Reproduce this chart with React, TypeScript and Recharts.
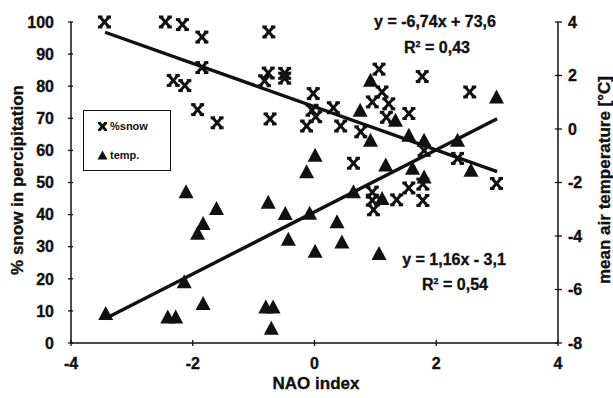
import { ScatterChart, Scatter, XAxis, YAxis, Label } from "recharts";

// % snow in precipitation (x markers)
const snowNao = [
  -3.45, -2.45, -2.17, -1.85, -1.85, -2.32, -2.13, -1.92, -1.6, -0.75, -0.76, -0.82,
  -0.49, -0.49, -0.73, -0.02, -0.04, 0.02, -0.13, 0.31, 0.43, 0.76, 0.64, 1.06, 1.11,
  0.95, 1.22, 1.18, 1.55, 1.77, 1.8, 2.55, 2.35, 2.99, 1.55, 1.35, 0.95, 0.95, 0.97,
  1.78, 1.78,
];
const snowPct = [
  100, 100, 99.2, 95.3, 85.8, 81.8, 80.2, 72.7, 68.6, 96.9, 84.1, 81.7,
  84, 82.5, 69.8, 77.7, 72.5, 70.5, 67.6, 73.3, 67.6, 65.8, 56, 85.3, 78.2,
  75.1, 74.5, 70.3, 71.5, 83, 60, 78.2, 57.5, 49.7, 48.3, 44.6, 47, 44.5, 41.5,
  49.5, 44.4,
];

// mean air temperature (triangles)
const tempNao = [
  -3.43, -2.11, -1.61, -1.83, -1.92, -2.14, -1.83, -2.41, -2.28, -0.76, -0.48, -0.43,
  -0.8, -0.68, -0.71, 0.01, 0.37, 0.45, 1.06, -0.08, 0.01, -0.13, 0.64, 1.17, 1.11,
  1.61, 1.8, 0.92, 0.75, 1.33, 0.92, 1.55, 1.8, 2.99, 2.35, 2.57,
];
const tempC = [
  -6.9, -2.35, -2.97, -3.53, -3.9, -5.71, -6.52, -7.03, -7.03, -2.74, -3.16, -4.12,
  -6.65, -6.65, -7.45, -4.57, -3.47, -4.22, -4.65, -3.15, -0.98, -1.6, -2.35, -1.35, -2.6,
  -1.47, -1.79, 1.82, 0.7, 0.33, -0.42, -0.23, -0.42, 1.2, -0.42, -1.54,
];

// regression line ends
const fitNao = [-3.44, 3.0];
const snowFit = [96.8, 53.4];
const tempFit = [-7.09, 0.38];

const xTicks = [-4, -2, 0, 2, 4];
const snowTicks = [0, 10, 20, 30, 40, 50, 60, 70, 80, 90, 100];
const tempTicks = [-8, -6, -4, -2, 0, 2, 4];

const snowData = snowNao.map((x, i) => ({ x, y: snowPct[i] }));
const tempData = tempNao.map((x, i) => ({ x, y: tempC[i] }));
const snowLine = fitNao.map((x, i) => ({ x, y: snowFit[i] }));
const tempLine = fitNao.map((x, i) => ({ x, y: tempFit[i] }));

const FONT = '"Liberation Sans", Arial, sans-serif';
const INK = "#111";

const XMark = ({ cx, cy }: any) => (
  <g stroke={INK} strokeWidth={3} fill="none">
    <line x1={cx - 4.5} y1={cy - 5} x2={cx + 4.5} y2={cy + 5} />
    <line x1={cx + 4.5} y1={cy - 5} x2={cx - 4.5} y2={cy + 5} />
    <line x1={cx - 6.5} y1={cy - 5} x2={cx - 2} y2={cy - 5} />
    <line x1={cx + 2} y1={cy - 5} x2={cx + 6.5} y2={cy - 5} />
    <line x1={cx - 6.5} y1={cy + 5} x2={cx - 2} y2={cy + 5} />
    <line x1={cx + 2} y1={cy + 5} x2={cx + 6.5} y2={cy + 5} />
  </g>
);

const TriMark = ({ cx, cy }: any) => (
  <polygon points={`${cx},${cy - 7.5} ${cx - 7.5},${cy + 6.5} ${cx + 7.5},${cy + 6.5}`} fill={INK} />
);

const NoMark = () => <g />;

const txt = { fontSize: 16, fontWeight: "bold", fill: INK, fontFamily: FONT, stroke: INK, strokeWidth: 0.35 } as const;

const XTick = ({ x, y, payload }: any) => (
  <g>
    <line x1={x} y1={y - 18} x2={x} y2={y - 12} stroke={INK} strokeWidth={1.3} />
    <text x={x} y={y} dy="0.71em" textAnchor="middle" {...txt}>
      {payload.value}
    </text>
  </g>
);

const LeftTick = ({ x, y, payload }: any) => (
  <g>
    <line x1={x + 14} y1={y} x2={x + 19} y2={y} stroke={INK} strokeWidth={1.3} />
    <text x={x} y={y} dy="0.36em" textAnchor="end" {...txt}>
      {payload.value}
    </text>
  </g>
);

const RightTick = ({ x, y, payload }: any) => (
  <g>
    <line x1={x - 13} y1={y} x2={x - 6} y2={y} stroke={INK} strokeWidth={1.3} />
    <text x={x} y={y} dy="0.36em" textAnchor="start" {...txt}>
      {payload.value}
    </text>
  </g>
);

const rotated = (text: string, cx: number, cy: number) => () => (
  <text
    x={cx}
    y={cy}
    transform={`rotate(-90 ${cx} ${cy})`}
    textAnchor="middle"
    dominantBaseline="central"
    {...txt}
    fontSize={17}
  >
    {text}
  </text>
);

const xTitle = () => (
  <text x={316} y={389} textAnchor="middle" {...txt} fontSize={17}>
    NAO index
  </text>
);

const eqStyle = (left: number, top: number): React.CSSProperties => ({
  position: "absolute",
  left,
  top,
  transform: "translate(-50%, -50%)",
  whiteSpace: "nowrap",
  fontSize: 16,
  fontWeight: "bold",
  color: INK,
  WebkitTextStroke: "0.35px #111",
});

export default function App() {
  return (
    <div style={{ position: "absolute", left: 0, top: 0, width: 613, height: 398, background: "#fff", fontFamily: FONT }}>
      <ScatterChart width={613} height={398} margin={{ top: 22, right: 0, bottom: 0, left: 0 }}>
        <XAxis
          type="number"
          dataKey="x"
          domain={[-4, 4]}
          ticks={xTicks}
          height={55}
          axisLine={{ stroke: INK, strokeWidth: 1.5 }}
          tickLine={false}
          tickSize={0}
          tickMargin={15}
          tick={<XTick />}
        >
          <Label content={xTitle} />
        </XAxis>
        <YAxis
          yAxisId="snow"
          type="number"
          dataKey="y"
          domain={[0, 100]}
          ticks={snowTicks}
          width={71}
          axisLine={{ stroke: INK, strokeWidth: 1.5 }}
          tickLine={false}
          tickSize={0}
          tickMargin={17}
          tick={<LeftTick />}
        >
          <Label content={rotated("% snow in percipitation", 17, 180)} />
        </YAxis>
        <YAxis
          yAxisId="temp"
          orientation="right"
          type="number"
          dataKey="y"
          domain={[-8, 4]}
          ticks={tempTicks}
          width={55}
          axisLine={{ stroke: INK, strokeWidth: 1.5 }}
          tickLine={false}
          tickSize={0}
          tickMargin={10}
          tick={<RightTick />}
        >
          <Label content={rotated("mean air temperature [°C]", 604, 180)} />
        </YAxis>
        <Scatter yAxisId="snow" data={snowData} shape={XMark} isAnimationActive={false} />
        <Scatter yAxisId="temp" data={tempData} shape={TriMark} isAnimationActive={false} />
        <Scatter
          yAxisId="snow"
          data={snowLine}
          line={{ stroke: INK, strokeWidth: 3.4 }}
          shape={NoMark}
          isAnimationActive={false}
        />
        <Scatter
          yAxisId="temp"
          data={tempLine}
          line={{ stroke: INK, strokeWidth: 3.4 }}
          shape={NoMark}
          isAnimationActive={false}
        />
      </ScatterChart>

      <div style={eqStyle(435, 22)}>y = -6,74x + 73,6</div>
      <div style={eqStyle(437, 48)}>
        R<sup style={{ fontSize: 9 }}>2</sup> = 0,43
      </div>
      <div style={eqStyle(454, 260)}>y = 1,16x - 3,1</div>
      <div style={eqStyle(455, 285)}>
        R<sup style={{ fontSize: 9 }}>2</sup> = 0,54
      </div>

      <div
        style={{
          position: "absolute",
          left: 83,
          top: 110,
          width: 86,
          height: 59,
          border: `1.5px solid ${INK}`,
          fontSize: 11,
          fontWeight: "bold",
          color: INK,
        }}
      >
        <div style={{ position: "absolute", left: 14, top: 9, display: "flex", alignItems: "center", gap: 3 }}>
          <svg width={9} height={9}>
            <XMark cx={4.5} cy={4.5} />
          </svg>
          <span>%snow</span>
        </div>
        <div style={{ position: "absolute", left: 13, top: 38, display: "flex", alignItems: "center", gap: 2 }}>
          <svg width={11} height={10}>
            <polygon points="5.5,0.5 0.5,9.5 10.5,9.5" fill={INK} />
          </svg>
          <span>temp.</span>
        </div>
      </div>
    </div>
  );
}
